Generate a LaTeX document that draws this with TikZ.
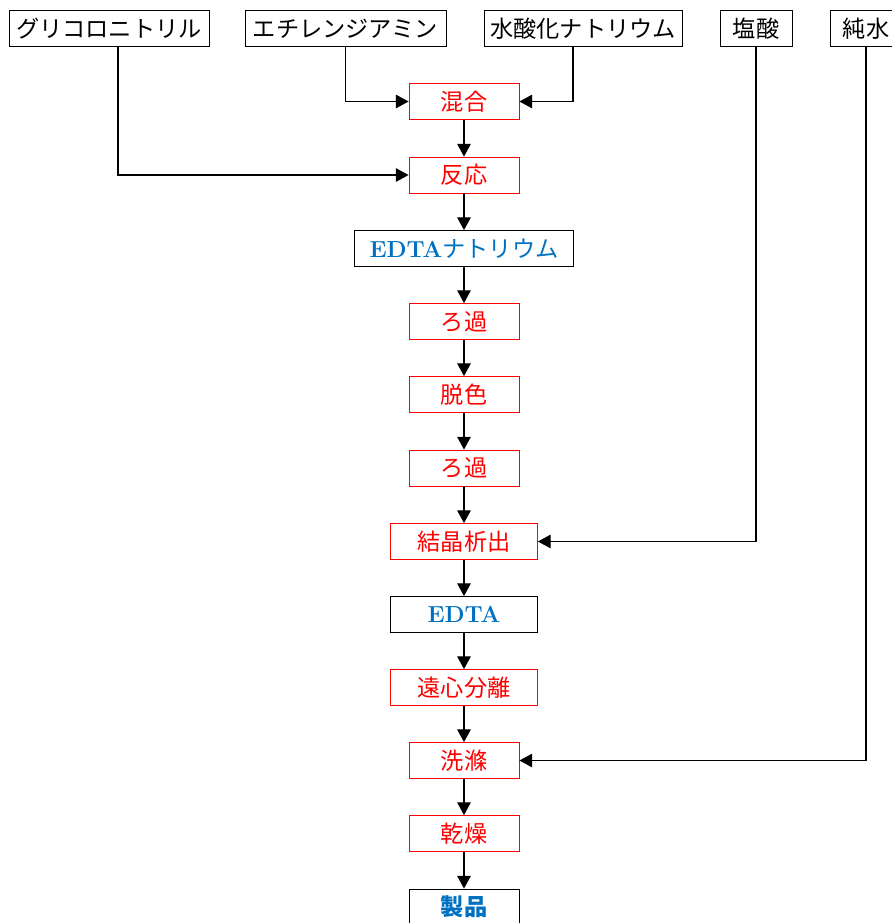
\documentclass[tikz,border=0pt]{standalone}
\usepackage{fontspec}
\usetikzlibrary{arrows.meta}
\newfontfamily\jp{Noto Sans CJK JP}
\definecolor{prodblue}{RGB}{0,112,192}
\definecolor{procred}{RGB}{255,0,0}
\tikzset{
    box/.style={draw,line width=0.6pt,minimum height=0.9cm,inner sep=2pt,font=\jp\fontsize{16.5}{19}\selectfont},
    feed/.style={box},
    proc/.style={box,draw=procred,text=procred,minimum width=2.75cm},
    prod/.style={box,text=prodblue,minimum width=2.75cm},
    flow/.style={line width=0.9pt,-{Triangle[length=3.2mm,width=3.4mm]}}
}

\begin{document}
\begin{tikzpicture}[x=0.025cm,y=-0.025cm]
    \useasboundingbox (0,0) rectangle (892,923);
    \node[feed,minimum width=5cm]    (glyco) at (109,28.5) {グリコロニトリル};
    \node[feed,minimum width=5.025cm] (eda)   at (345.5,28.5) {エチレンジアミン};
    \node[feed,minimum width=4.95cm] (naoh)  at (583,28.5) {水酸化ナトリウム};
    \node[feed,minimum width=1.8cm]  (hcl)   at (756,28.5) {塩酸};
    \node[feed,minimum width=1.8cm]  (water) at (866,28.5) {純水};

    \node[proc] (mix)    at (464,101.5) {混合};
    \node[proc] (react)  at (464,175) {反応};
    \node[prod,minimum width=5.475cm] (edtana) at (464,248.5) {{\rmfamily\bfseries EDTA}ナトリウム};
    \node[proc] (filt1)  at (464,321.5) {ろ過};
    \node[proc] (decol)  at (464,394.5) {脱色};
    \node[proc] (filt2)  at (464,468) {ろ過};
    \node[proc,minimum width=3.675cm] (cryst) at (464,541.5) {結晶析出};
    \node[prod,minimum width=3.675cm] (edta)  at (464,614.5) {\rmfamily\bfseries EDTA};
    \node[proc,minimum width=3.675cm] (centr) at (464,687.5) {遠心分離};
    \node[proc] (wash)   at (464,760.5) {洗滌};
    \node[proc] (dry)    at (464,833.5) {乾燥};
    \node[prod,font=\jp\bfseries\fontsize{16.5}{19}\selectfont] (product) at (464,907) {製品};

    \draw[flow] (eda.south) |- (mix.west);
    \draw[flow] ([xshift=-0.25cm]naoh.south) |- (mix.east);
    \draw[flow] ([xshift=0.225cm]glyco.south) |- (react.west);
    \draw[flow] (hcl.south) |- (cryst.east);
    \draw[flow] (water.south) |- (wash.east);

    \draw[flow] (mix) -- (react);
    \draw[flow] (react) -- (edtana);
    \draw[flow] (edtana) -- (filt1);
    \draw[flow] (filt1) -- (decol);
    \draw[flow] (decol) -- (filt2);
    \draw[flow] (filt2) -- (cryst);
    \draw[flow] (cryst) -- (edta);
    \draw[flow] (edta) -- (centr);
    \draw[flow] (centr) -- (wash);
    \draw[flow] (wash) -- (dry);
    \draw[flow] (dry) -- (product);
\end{tikzpicture}
\end{document}
